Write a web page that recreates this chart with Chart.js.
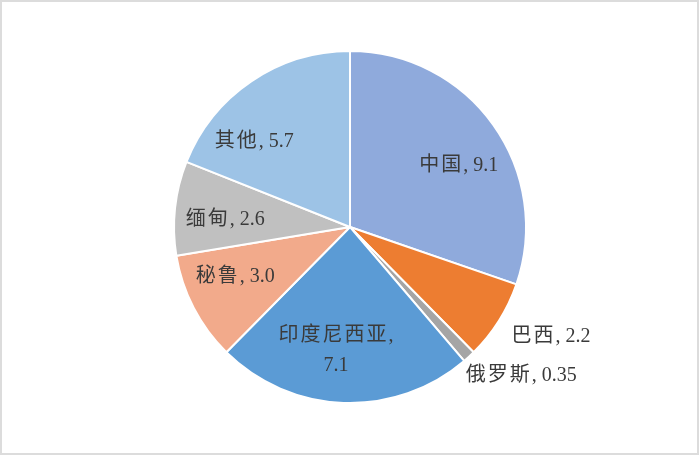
<!DOCTYPE html>
<html>
<head>
<meta charset="utf-8">
<script src="https://cdn.jsdelivr.net/npm/chart.js@4/dist/chart.umd.min.js"></script>
<style>
  html, body { margin: 0; padding: 0; background: #fff; }
  #frame {
    position: absolute; left: 0; top: 0;
    width: 695px; height: 451px;
    border: 2px solid #dcdcdc;
  }
  #pie { position: absolute; left: 0; top: 0; }
</style>
</head>
<body>
<div id="frame"></div>
<canvas id="pie" width="700" height="458"></canvas>
<script>
// 各国产量（单位同原图）
const countries = ["中国", "巴西", "俄罗斯", "印度尼西亚", "秘鲁", "缅甸", "其他"];
const values = [9.1, 2.2, 0.35, 7.1, 3.0, 2.6, 5.7];
const valueLabels = ["9.1", "2.2", "0.35", "7.1", "3.0", "2.6", "5.7"];

const sliceColors = ["#8FAADC", "#ED7D31", "#A5A5A5", "#5B9BD5", "#F2AA8B", "#C0C0C0", "#9DC3E6"];

// label placement: fraction of radius + angle nudge (deg), two-line for long names
const labelLayout = [
    { r: 0.71, da: 6 },
    { r: 1.30, da: -3.6 },
    { r: 1.29, da: -6.4 },
    { r: 0.71, da: 4.3, wrap: true },
    { r: 0.71, da: 4 },
    { r: 0.71, da: -2.6 },
    { r: 0.73, da: -14 }
];

const FONT = '20px "Liberation Serif", "Noto Sans CJK SC"';

// CJK part gets wider spacing (like SimSun in the original), numbers don't
function drawLabel(ctx, name, rest, cx, cy) {
    ctx.letterSpacing = '2px';
    const w1 = ctx.measureText(name).width;
    ctx.letterSpacing = '0px';
    const w2 = ctx.measureText(rest).width;
    let x = cx - (w1 + w2) / 2;
    ctx.letterSpacing = '2px';
    ctx.fillText(name, x, cy);
    ctx.letterSpacing = '0px';
    ctx.fillText(rest, x + w1, cy);
}

const pieLabels = {
    id: 'pieLabels',
    afterDatasetsDraw(chart) {
        const ctx = chart.ctx;
        const meta = chart.getDatasetMeta(0);
        ctx.save();
        ctx.font = FONT;
        ctx.fillStyle = '#3a3a3a';
        ctx.textAlign = 'left';
        ctx.textBaseline = 'middle';
        meta.data.forEach((arc, i) => {
            const lay = labelLayout[i];
            const mid = (arc.startAngle + arc.endAngle) / 2 + lay.da * Math.PI / 180;
            const rr = arc.outerRadius * lay.r;
            const x = arc.x + Math.cos(mid) * rr;
            const y = arc.y + Math.sin(mid) * rr;
            if (lay.wrap) {
                drawLabel(ctx, countries[i], ",", x, y - 15);
                drawLabel(ctx, "", valueLabels[i], x, y + 15);
            } else {
                drawLabel(ctx, countries[i], ", " + valueLabels[i], x, y);
            }
        });
        ctx.restore();
    }
};

new Chart(document.getElementById("pie"), {
    type: 'pie',
    data: {
        labels: countries,
        datasets: [{
            data: values,
            backgroundColor: sliceColors,
            borderColor: '#FFFFFF',
            borderWidth: 2
        }]
    },
    options: {
        responsive: false,
        animation: false,
        layout: {
            padding: { top: 50, bottom: 54, left: 0, right: 0 }
        },
        plugins: {
            legend: { display: false },
            tooltip: { enabled: false }
        }
    },
    plugins: [pieLabels]
});
</script>
</body>
</html>
